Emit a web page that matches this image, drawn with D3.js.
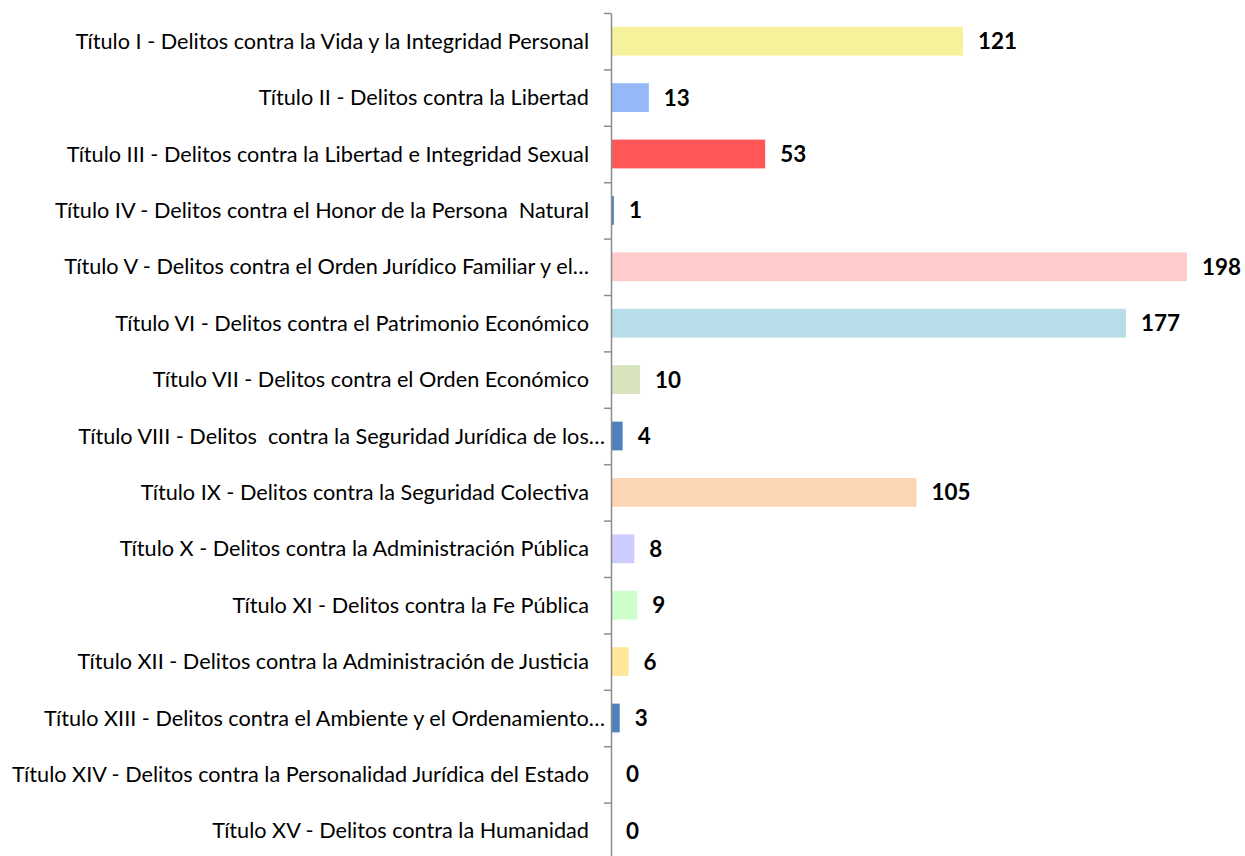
<!DOCTYPE html>
<html>
<head>
<meta charset="utf-8">
<script src="https://cdn.jsdelivr.net/npm/d3@7"></script>
<style>
  html, body { margin: 0; padding: 0; background: #ffffff; }
  svg { display: block; }
  text { font-family: Lato, "Open Sans", "Noto Sans", sans-serif; white-space: pre; }
</style>
</head>
<body>
<svg id="chart" width="1245" height="856"></svg>
<script>
const categories = [
  "Título I - Delitos contra la Vida y la Integridad Personal",
  "Título II - Delitos contra la Libertad",
  "Título III - Delitos contra la Libertad e Integridad Sexual",
  "Título IV - Delitos contra el Honor de la Persona  Natural",
  "Título V - Delitos contra el Orden Jurídico Familiar y el…",
  "Título VI - Delitos contra el Patrimonio Económico",
  "Título VII - Delitos contra el Orden Económico",
  "Título VIII - Delitos  contra la Seguridad Jurídica de los…",
  "Título IX - Delitos contra la Seguridad Colectiva",
  "Título X - Delitos contra la Administración Pública",
  "Título XI - Delitos contra la Fe Pública",
  "Título XII - Delitos contra la Administración de Justicia",
  "Título XIII - Delitos contra el Ambiente y el Ordenamiento…",
  "Título XIV - Delitos contra la Personalidad Jurídica del Estado",
  "Título XV - Delitos contra la Humanidad"
];
const values = [121, 13, 53, 1, 198, 177, 10, 4, 105, 8, 9, 6, 3, 0, 0];
const barColors = [
  "#F5F29B", "#95B9F8", "#FF5757", "#4F81BD", "#FFCCCC",
  "#B7DEE8", "#D7E4BD", "#4F81BD", "#FCD5B5", "#CCCCFF",
  "#CCFFCC", "#FFE699", "#4F81BD", "#4F81BD", "#4F81BD"
];

(function () {
const svg = d3.select("#chart");
const axisX = 611;
const plotTop = 13, plotBottom = 859;
const x = d3.scaleLinear().domain([0, 198]).range([axisX, 1187]);
const y = d3.scaleBand().domain(d3.range(categories.length)).range([plotTop, plotBottom]).paddingInner(0.49).paddingOuter(0.245);
const yTicks = d3.scaleLinear().domain([0, categories.length]).range([plotTop, plotBottom]);

// bars
svg.append("g").selectAll("rect").data(values).join("rect")
  .attr("x", axisX)
  .attr("y", (d, i) => y(i))
  .attr("width", d => x(d) - axisX)
  .attr("height", y.bandwidth())
  .attr("fill", (d, i) => barColors[i]);

// axis
const axis = d3.axisLeft(yTicks).tickValues(d3.range(categories.length + 1)).tickFormat("").tickSize(7).tickSizeOuter(0);
const ag = svg.append("g").attr("transform", `translate(${axisX},0)`).call(axis);
ag.select(".domain").attr("stroke", "#8c8c8c").attr("stroke-width", 1.5);
ag.selectAll(".tick line").attr("stroke", "#8c8c8c").attr("stroke-width", 1.5);

// category labels
const lab = svg.append("g").selectAll("text").data(categories).join("text")
  .attr("xml:space", "preserve")
  .attr("y", (d, i) => y(i) + y.bandwidth() / 2)
  .attr("dy", "0.35em")
  .attr("text-anchor", "end")
  .attr("fill", "#000")
  .style("font-size", "20px")
  .text(d => d);
const w0 = lab.nodes()[0].getComputedTextLength();
const fs = 20 * 514 / w0;
lab.style("font-size", fs + "px")
  .attr("x", (d, i) => (i === 7 || i === 12) ? 605 : 589);

// value labels
const vl = svg.append("g").selectAll("text").data(values).join("text")
  .attr("x", d => x(d) + 15)
  .attr("y", (d, i) => y(i) + y.bandwidth() / 2)
  .attr("dy", "0.36em")
  .attr("fill", "#000")
  .style("font-weight", "bold")
  .style("font-size", "24px")
  .text(d => d);
const wv = vl.nodes()[4].getComputedTextLength();
vl.style("font-size", (24 * 39 / wv) + "px");
})();
</script>
</body>
</html>
